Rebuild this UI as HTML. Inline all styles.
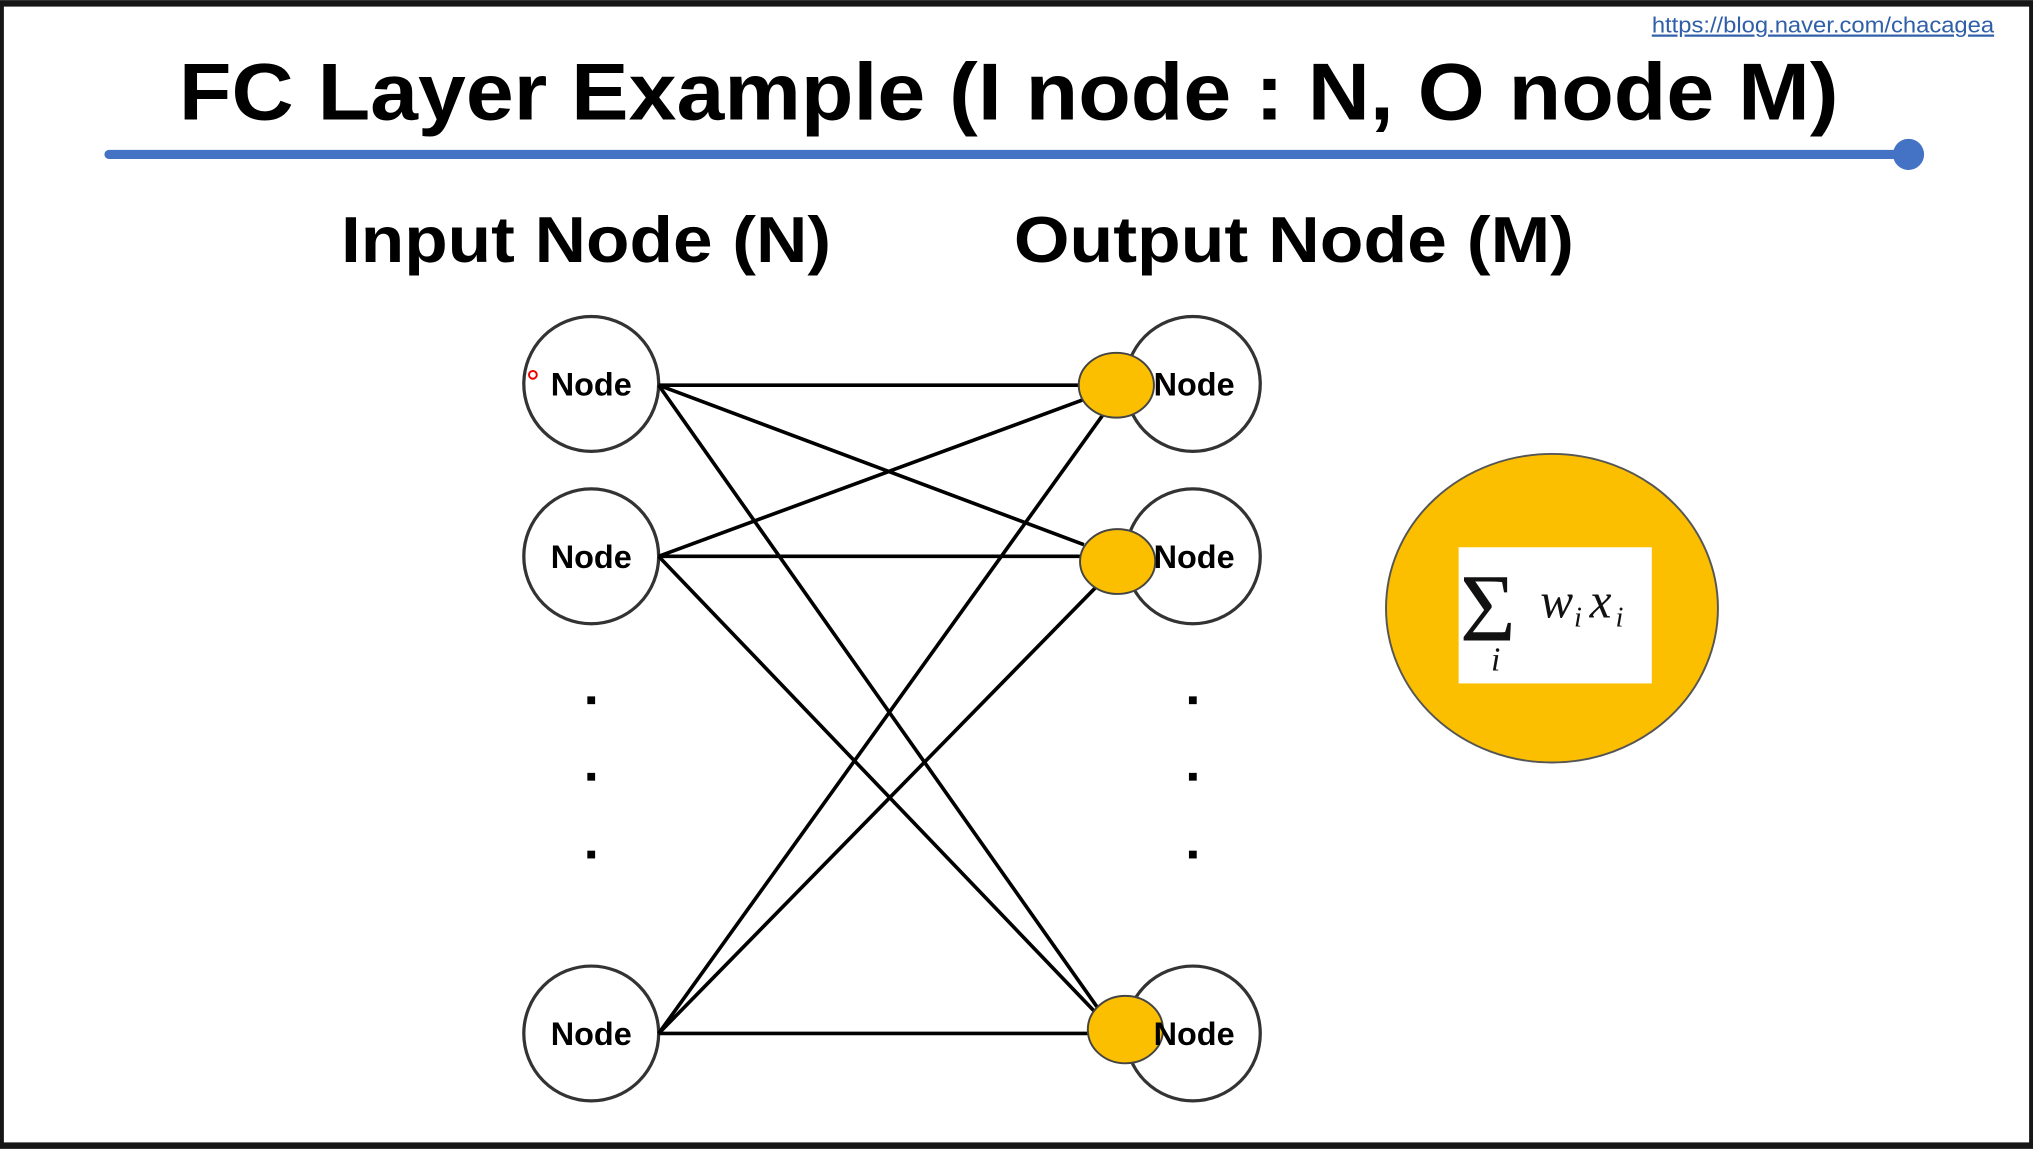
<!DOCTYPE html>
<html><head><style>html,body{margin:0;padding:0;background:#fff}svg{display:block}</style></head>
<body>
<svg width="2033" height="1149" viewBox="0 0 1568 886" xmlns="http://www.w3.org/2000/svg">
<rect x="0" y="0" width="1568" height="886" fill="#161616"/>
<rect x="3" y="5" width="1562" height="876" fill="#fff"/>
<text x="1538" y="25" text-anchor="end" font-family="Liberation Sans, sans-serif" font-size="17" fill="#2f5fa8" text-decoration="underline" textLength="264" lengthAdjust="spacingAndGlyphs">https://blog.naver.com/chacagea</text>
<text x="138" y="92" font-family="Liberation Sans, sans-serif" font-weight="bold" font-size="62" fill="#000" textLength="1280" lengthAdjust="spacingAndGlyphs">FC Layer Example (I node : N, O node M)</text>
<line x1="84" y1="119" x2="1472" y2="119" stroke="#4472C4" stroke-width="7" stroke-linecap="round"/>
<circle cx="1472" cy="119" r="12" fill="#4472C4"/>
<text x="263" y="202" font-family="Liberation Sans, sans-serif" font-weight="bold" font-size="50" textLength="378" lengthAdjust="spacingAndGlyphs">Input Node (N)</text>
<text x="782" y="202" font-family="Liberation Sans, sans-serif" font-weight="bold" font-size="50" textLength="432" lengthAdjust="spacingAndGlyphs">Output Node (M)</text>
<g fill="#fff" stroke="#333" stroke-width="2.5">
<circle cx="456" cy="296" r="52"/><circle cx="456" cy="429" r="52"/><circle cx="456" cy="797" r="52"/>
<circle cx="920" cy="296" r="52"/><circle cx="920" cy="429" r="52"/><circle cx="920" cy="797" r="52"/>
</g>
<g stroke="#000" stroke-width="2.8">
<line x1="508" y1="297" x2="835" y2="297"/>
<line x1="508" y1="297" x2="836" y2="420"/>
<line x1="508" y1="297" x2="850" y2="782"/>
<line x1="508" y1="429" x2="836" y2="308"/>
<line x1="508" y1="429" x2="836" y2="429"/>
<line x1="508" y1="429" x2="848" y2="784"/>
<line x1="508" y1="797" x2="852" y2="318"/>
<line x1="508" y1="797" x2="848" y2="450"/>
<line x1="508" y1="797" x2="842" y2="797"/>
</g>
<g fill="#FBBF00" stroke="#444" stroke-width="1.5">
<ellipse cx="861" cy="297" rx="29" ry="25"/>
<ellipse cx="862" cy="433" rx="29" ry="25"/>
<ellipse cx="868" cy="794" rx="29" ry="26"/>
</g>
<g font-family="Liberation Sans, sans-serif" font-weight="bold" font-size="25" fill="#000">
<text x="456" y="305" text-anchor="middle">Node</text>
<text x="456" y="438" text-anchor="middle">Node</text>
<text x="456" y="806" text-anchor="middle">Node</text>
<text x="921" y="305" text-anchor="middle">Node</text>
<text x="921" y="438" text-anchor="middle">Node</text>
<text x="921" y="806" text-anchor="middle">Node</text>
</g>
<g fill="#000">
<rect x="453" y="537" width="6" height="6"/><rect x="453" y="596" width="6" height="6"/><rect x="453" y="656" width="6" height="6"/>
<rect x="917" y="537" width="6" height="6"/><rect x="917" y="596" width="6" height="6"/><rect x="917" y="656" width="6" height="6"/>
</g>
<circle cx="411" cy="289" r="3" fill="none" stroke="#e00" stroke-width="1.5"/>
<ellipse cx="1197" cy="469" rx="128" ry="119" fill="#FBBF00" stroke="#555" stroke-width="1.5"/>
<rect x="1125" y="422" width="149" height="105" fill="#fff"/>
<text x="1126" y="494" font-family="Liberation Serif, serif" font-size="74" fill="#111">Σ</text>
<text x="1150" y="517" font-family="Liberation Serif, serif" font-style="italic" font-size="26" fill="#111">i</text>
<text x="1188" y="476" font-family="Liberation Serif, serif" font-style="italic" font-size="38" fill="#111">w</text>
<text x="1214" y="483" font-family="Liberation Serif, serif" font-style="italic" font-size="22" fill="#111">i</text>
<text x="1226" y="476" font-family="Liberation Serif, serif" font-style="italic" font-size="38" fill="#111">x</text>
<text x="1246" y="483" font-family="Liberation Serif, serif" font-style="italic" font-size="22" fill="#111">i</text>
</svg>
</body></html>
